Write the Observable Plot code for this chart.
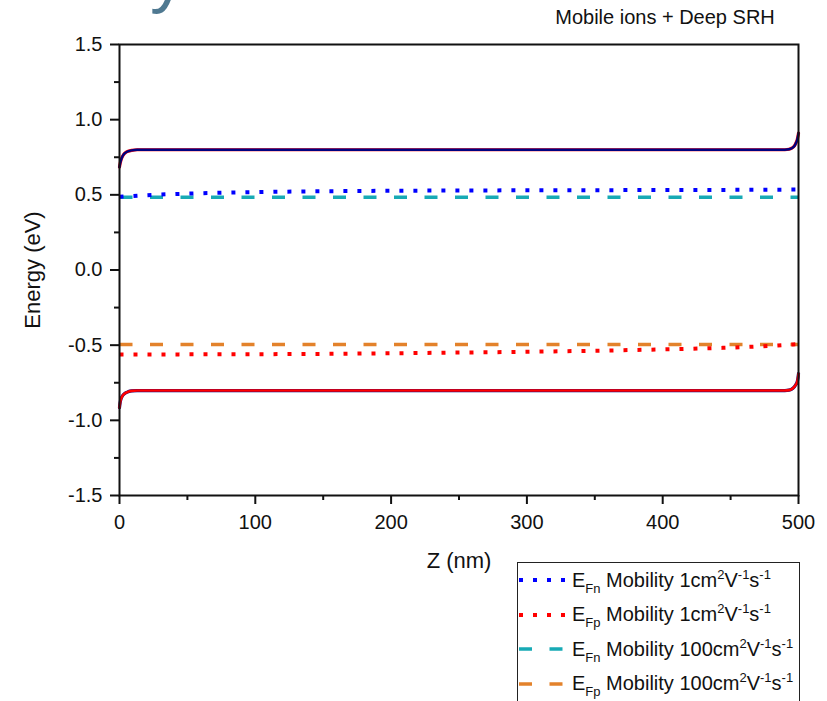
<!DOCTYPE html>
<html>
<head>
<meta charset="utf-8">
<script src="https://cdn.jsdelivr.net/npm/d3@7"></script>
<script src="https://cdn.jsdelivr.net/npm/@observablehq/plot@0.6"></script>
<style>
  html, body { margin: 0; padding: 0; background: white; }
  body { width: 827px; height: 701px; overflow: hidden; position: relative; font-family: "Liberation Sans", Arial, sans-serif; }
  #chart { position: absolute; left: 0; top: 0; }
  #glyph { position: absolute; left: 150px; top: -62px; font-size: 72px; line-height: 1; color: #4f7991; font-family: "Liberation Sans", Arial, sans-serif; }
  #legend { position: absolute; left: 517px; top: 562px; width: 283px; height: 160px; border: 1.5px solid #222; background: white; box-sizing: border-box; }
  .row { display: flex; align-items: center; height: 34.5px; font-size: 20px; color: #111; white-space: nowrap; }
  .row svg { margin-right: 6px; flex: none; }
  .row sub { font-size: 13px; vertical-align: -6px; line-height: 0; }
  .row sup { font-size: 13px; vertical-align: 8px; line-height: 0; }
</style>
</head>
<body>
<div id="chart"></div>
<div id="glyph">y</div>
<div id="legend"></div>
<script>
// ---- data ----
const zBand    = [0, 0.5, 1, 2, 3, 4.5, 6.5, 9, 13, 50, 150, 250, 350, 450, 490, 493, 495, 497, 498, 499, 499.5, 500];
const cbEnergy = [0.685, 0.71, 0.728, 0.752, 0.768, 0.781, 0.79, 0.796, 0.8, 0.8, 0.8, 0.8, 0.8, 0.8, 0.8, 0.803, 0.81, 0.825, 0.842, 0.865, 0.885, 0.91];
const vbEnergy = [-0.915, -0.88, -0.86, -0.84, -0.828, -0.817, -0.809, -0.804, -0.802, -0.802, -0.802, -0.802, -0.802, -0.802, -0.802, -0.799, -0.792, -0.776, -0.763, -0.745, -0.725, -0.69];

const zFermi = [0, 25, 50, 100, 150, 200, 250, 300, 350, 400, 450, 480, 500];
const efnMob1   = [0.487, 0.500, 0.508, 0.518, 0.524, 0.527, 0.529, 0.530, 0.531, 0.532, 0.533, 0.534, 0.535];
const efpMob1   = [-0.562, -0.562, -0.561, -0.560, -0.558, -0.554, -0.549, -0.544, -0.537, -0.528, -0.516, -0.504, -0.493];
const efnMob100 = [0.484, 0.484, 0.484, 0.484, 0.484, 0.484, 0.484, 0.484, 0.484, 0.484, 0.484, 0.484, 0.484];
const efpMob100 = [-0.495, -0.495, -0.495, -0.495, -0.495, -0.495, -0.495, -0.495, -0.495, -0.495, -0.495, -0.495, -0.495];

const xTicks = [0, 100, 200, 300, 400, 500];
const xMinor = [50, 150, 250, 350, 450];
const yTicks = [-1.5, -1.0, -0.5, 0.0, 0.5, 1.0, 1.5];
const yMinor = [-1.25, -0.75, -0.25, 0.25, 0.75, 1.25];

const titleText = "Mobile ions + Deep SRH";
const xLabel = "Z (nm)";
const yLabel = "Energy (eV)";

const legendItems = [
  {sub: "Fn", mob: "1", color: "#0000ff", dash: "4,10", width: 4},
  {sub: "Fp", mob: "1", color: "#ff0000", dash: "4,10", width: 4},
  {sub: "Fn", mob: "100", color: "#17aab5", dash: "13,17.5", width: 3.5},
  {sub: "Fp", mob: "100", color: "#e3822b", dash: "13,17.5", width: 3.5}
];

// ---- tables ----
const toRows = (zs, es) => zs.map((z, i) => ({z, e: es[i]}));
const cb = toRows(zBand, cbEnergy);
const vb = toRows(zBand, vbEnergy);
const fn1 = toRows(zFermi, efnMob1);
const fp1 = toRows(zFermi, efpMob1);
const fn100 = toRows(zFermi, efnMob100);
const fp100 = toRows(zFermi, efpMob100);

const font = "Liberation Sans, Arial, sans-serif";

const chart = Plot.plot({
  width: 827,
  height: 701,
  marginLeft: 119,
  marginRight: 29,
  marginTop: 44,
  marginBottom: 206,
  style: {fontFamily: font, fontSize: "20px", color: "#111", background: "transparent", overflow: "visible"},
  x: {domain: [0, 500]},
  y: {domain: [-1.5, 1.5]},
  marks: [
    // Fermi levels
    Plot.line(fn100, {x: "z", y: "e", stroke: "#17aab5", strokeWidth: 3.5, strokeDasharray: "13,17.5", strokeLinecap: "butt"}),
    Plot.line(fp100, {x: "z", y: "e", stroke: "#e3822b", strokeWidth: 3.5, strokeDasharray: "13,17.5", strokeLinecap: "butt"}),
    Plot.line(fn1, {x: "z", y: "e", stroke: "#0000ff", strokeWidth: 4, strokeDasharray: "4,10", strokeLinecap: "butt", curve: "monotone-x"}),
    Plot.line(fp1, {x: "z", y: "e", stroke: "#ff0000", strokeWidth: 4, strokeDasharray: "4,10", strokeLinecap: "butt", curve: "monotone-x"}),
    // Bands
    Plot.line(cb, {x: "z", y: "e", stroke: "#ff0000", strokeWidth: 3.2, curve: "monotone-x"}),
    Plot.line(cb, {x: "z", y: "e", stroke: "#000080", strokeWidth: 2.4, curve: "monotone-x"}),
    Plot.line(vb, {x: "z", y: "e", stroke: "#000080", strokeWidth: 3.2, curve: "monotone-x"}),
    Plot.line(vb, {x: "z", y: "e", stroke: "#ff0000", strokeWidth: 2.6, curve: "monotone-x"}),
    // Axes
    Plot.axisX({ticks: xTicks, tickSize: 9, tickPadding: 10, fontSize: 20, stroke: "#111", strokeWidth: 2, label: null, tickFormat: d => String(d)}),
    Plot.axisX({ticks: xMinor, tickSize: 5, stroke: "#111", strokeWidth: 2, label: null, tickFormat: () => ""}),
    Plot.axisY({ticks: yTicks, tickSize: 9, tickPadding: 8, fontSize: 20, stroke: "#111", strokeWidth: 2, label: null, tickFormat: d => d.toFixed(1)}),
    Plot.axisY({ticks: yMinor, tickSize: 5, stroke: "#111", strokeWidth: 2, label: null, tickFormat: () => ""}),
    Plot.frame({stroke: "#111", strokeWidth: 2}),
    // Labels
    Plot.text([yLabel], {frameAnchor: "left", dx: -87, rotate: -90, lineAnchor: "middle", textAnchor: "middle", fontSize: 22, fill: "#111"}),
    Plot.text([xLabel], {frameAnchor: "bottom", dy: 65, lineAnchor: "middle", textAnchor: "middle", fontSize: 22, fill: "#111"}),
    Plot.text([titleText], {frameAnchor: "top", dx: 206, dy: -27, lineAnchor: "middle", textAnchor: "middle", fontSize: 20, fill: "#111"})
  ]
});
document.getElementById("chart").appendChild(chart);

// ---- legend ----
const legend = document.getElementById("legend");
for (const item of legendItems) {
  const row = document.createElement("div");
  row.className = "row";
  const svg = d3.create("svg").attr("width", 48).attr("height", 10);
  svg.append("line").attr("x1", 1).attr("x2", 48).attr("y1", 5).attr("y2", 5)
    .attr("stroke", item.color).attr("stroke-width", item.width)
    .attr("stroke-dasharray", item.dash);
  row.appendChild(svg.node());
  const span = document.createElement("span");
  span.innerHTML = `E<sub>${item.sub}</sub> Mobility ${item.mob}cm<sup>2</sup>V<sup>-1</sup>s<sup>-1</sup>`;
  row.appendChild(span);
  legend.appendChild(row);
}
</script>
</body>
</html>
